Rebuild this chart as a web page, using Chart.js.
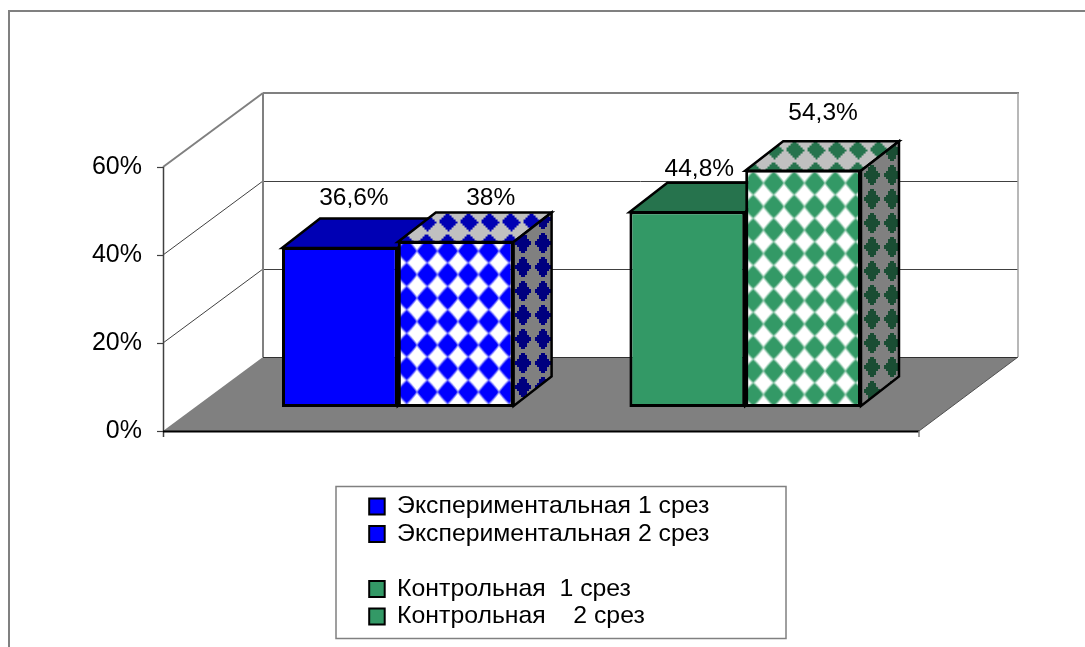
<!DOCTYPE html>
<html lang="ru">
<head>
<meta charset="utf-8">
<style>html,body{margin:0;padding:0;background:#fff;overflow:hidden}canvas{display:block}</style>
<script src="https://cdn.jsdelivr.net/npm/chart.js@4"></script>
</head>
<body>
<canvas id="c" width="1085" height="647"></canvas>
<script>
const categories = [''];
const seriesNames = ['Экспериментальная 1 срез', 'Экспериментальная 2 срез', '', 'Контрольная  1 срез', 'Контрольная    2 срез'];
const seriesValues = [[36.6], [38], [null], [44.8], [54.3]];
const axisTicks = [0, 20, 40, 60];

const FONT = '"Liberation Sans", Arial, sans-serif';
const BLUE = '#0000ff', GREEN = '#339966';
const D = { wallDx: 100, wallDy: -74, barDx: 38, barDy: -29.5, frontLeftGap: 61 };

function softTile(fg, w, h, ox, oy) {
  const c = document.createElement('canvas'); c.width = w; c.height = h;
  const x = c.getContext('2d');
  x.fillStyle = '#fff'; x.fillRect(0, 0, w, h);
  x.fillStyle = fg;
  const a = w / 2, b = h / 2;
  for (let py = 0; py < h; py++) for (let px = 0; px < w; px++) {
    const dx = Math.abs(px + .5 - a), dy = Math.abs(py + .5 - b);
    const v = Math.pow(dx / a, 1.1) + Math.pow(dy / b, 1.1);
    const cov = Math.max(0, Math.min(1, (1 - v) * 3 + .5));
    x.globalAlpha = cov;
    x.fillRect(px, py, 1, 1);
  }
  const p = x.createPattern(c, 'repeat');
  const sx = 20.5 / w, sy = 23.5 / h;
  p.setTransform(new DOMMatrix().translate(ox - a * sx, oy - b * sy).scale(sx, sy));
  return p;
}
function blobTile(bg, fg, w, h, rx, ry, ox, oy) {
  const c = document.createElement('canvas'); c.width = w; c.height = h;
  const x = c.getContext('2d');
  x.fillStyle = bg; x.fillRect(0, 0, w, h);
  x.fillStyle = fg;
  const cx = w / 2, cy = h / 2, s = 2;
  for (let py = 0; py < h; py += s) for (let px = 0; px < w; px += s) {
    const dx = Math.abs(px + s / 2 - cx), dy = Math.abs(py + s / 2 - cy);
    if (dx / rx + dy / ry <= 1) x.fillRect(px, py, s, s);
  }
  const p = x.createPattern(c, 'repeat');
  p.setTransform(new DOMMatrix().translate(ox - cx, oy - cy));
  return p;
}

const faces = [
  { front: BLUE, legend: BLUE, top: '#0000b4', side: '#00007f' },
  { front: softTile(BLUE, 21, 24, 406.7, 251), legend: BLUE,
    top: blobTile('#c0c0c0', '#0000b4', 21, 21, 9.5, 9, 448, 222),
    side: blobTile('#808080', '#00007f', 20, 24, 9, 10.5, 523, 267) },
  { front: 'transparent', legend: 'transparent', top: 'transparent', side: 'transparent' },
  { front: GREEN, legend: GREEN, top: '#26734d', side: '#1a4d33' },
  { front: softTile(GREEN, 21, 24, 773.7, 183), legend: GREEN,
    top: blobTile('#c0c0c0', '#26734d', 21, 21, 9.5, 9, 795, 150),
    side: blobTile('#808080', '#1a4d33', 20, 24, 9, 10.5, 872, 223) }
];
const labelShift = [[14, -49], [35, -43], [0, 0], [12, -42], [20, -56]];

function poly(ctx, pts) {
  ctx.beginPath();
  pts.forEach((p, i) => i ? ctx.lineTo(p[0], p[1]) : ctx.moveTo(p[0], p[1]));
  ctx.closePath();
}
function line(ctx, x1, y1, x2, y2, color, w) {
  ctx.strokeStyle = color; ctx.lineWidth = w;
  ctx.beginPath(); ctx.moveTo(x1, y1); ctx.lineTo(x2, y2); ctx.stroke();
}

const scene3d = {
  id: 'scene3d',
  afterLayout(chart) {
    const l = chart.legend;
    l.left = 366.5; l.right = 786; l.top = 491.5; l.bottom = 640;
  },
  beforeDatasetsDraw(chart) {
    const ctx = chart.ctx, y = chart.scales.y, a = chart.chartArea;
    const x0 = a.left - D.frontLeftGap, x1 = a.right;
    const yb = y.getPixelForValue(0), yt = y.getPixelForValue(60);
    const bx0 = x0 + D.wallDx, bx1 = x1 + D.wallDx - 1, dy = D.wallDy;
    ctx.save();
    ctx.fillStyle = '#808080';
    ctx.fillRect(8, 10, 1077, 2);
    ctx.fillRect(8, 10, 2, 637);
    ctx.fillStyle = '#808080';
    poly(ctx, [[x0, yb], [x1, yb], [bx1, yb + dy], [bx0, yb + dy]]);
    ctx.fill();
    axisTicks.forEach(t => {
      const p = y.getPixelForValue(t);
      if (t > 0 && t < 60) {
        line(ctx, x0, p, bx0, p + dy, '#404040', 1);
        line(ctx, bx0, p + dy + .5, bx1, p + dy + .5, '#404040', 1);
      }
      line(ctx, x0 - 6, p + .5, x0, p + .5, '#404040', 1.2);
    });
    line(ctx, x0, yt, bx0, yt + dy, '#808080', 2);
    line(ctx, bx0, yt + dy, bx1 + 1, yt + dy, '#808080', 2);
    line(ctx, bx0, yt + dy, bx0, yb + dy, '#808080', 2);
    line(ctx, bx1, yt + dy, bx1, yb + dy, '#a0a0a0', 1.5);
    line(ctx, bx0, yb + dy + .5, bx1, yb + dy + .5, '#303030', 1);
    line(ctx, x0 + .5, yt, x0 + .5, yb + 6, '#404040', 1.5);
    line(ctx, x0, yb + .5, x1, yb + .5, '#000', 2);
    line(ctx, x1, yb, x1, yb + 6, '#808080', 1.5);
    line(ctx, x1, yb, bx1, yb + dy, '#505050', 1);
    ctx.lineJoin = 'miter';
    chart.data.datasets.forEach((ds, i) => {
      const bar = chart.getDatasetMeta(i).data[0];
      if (!bar || ds.data[0] == null) return;
      const hw = bar.width / 2, L = bar.x - hw, R = bar.x + hw, T = bar.y + 1, B = bar.base - 1;
      const f = faces[i];
      ctx.strokeStyle = '#000'; ctx.lineWidth = 2.5;
      poly(ctx, [[L, T], [R, T], [R + D.barDx, T + D.barDy], [L + D.barDx, T + D.barDy]]);
      ctx.fillStyle = f.top; ctx.fill(); ctx.stroke();
      poly(ctx, [[R, T], [R + D.barDx, T + D.barDy], [R + D.barDx, B + D.barDy], [R, B]]);
      ctx.fillStyle = f.side; ctx.fill(); ctx.stroke();
    });
    ctx.restore();
  },
  afterDraw(chart) {
    const ctx = chart.ctx;
    ctx.save();
    ctx.strokeStyle = '#808080'; ctx.lineWidth = 1.5;
    ctx.strokeRect(336, 486.5, 450, 152);
    ctx.fillStyle = '#000';
    ctx.font = '24.5px ' + FONT;
    ctx.textAlign = 'center'; ctx.textBaseline = 'middle';
    chart.data.datasets.forEach((ds, i) => {
      const bar = chart.getDatasetMeta(i).data[0], v = ds.data[0];
      if (!bar || v == null) return;
      ctx.fillText(String(v).replace('.', ',') + '%', bar.x + labelShift[i][0], bar.y + labelShift[i][1]);
    });
    ctx.restore();
  }
};

new Chart(document.getElementById('c'), {
  type: 'bar',
  data: {
    labels: categories,
    datasets: seriesNames.map((name, i) => ({
      label: name,
      data: seriesValues[i],
      yAxisID: 'yBars',
      backgroundColor: faces[i].front,
      borderColor: '#000',
      borderWidth: 3,
      borderSkipped: false,
      categoryPercentage: 0.8331,
      barPercentage: 1
    }))
  },
  options: {
    responsive: false,
    animation: false,
    events: [],
    layout: { padding: { left: 0, right: 166, top: 167, bottom: 216 } },
    scales: {
      x: { display: false },
      y: {
        position: 'left', min: 0, max: 60,
        afterFit(s) { s.width = 224; },
        afterBuildTicks(s) { s.ticks = axisTicks.map(v => ({ value: v })); },
        grid: { display: false, drawTicks: false },
        border: { display: false },
        ticks: { padding: 82, color: '#000', font: { family: FONT, size: 25 }, callback: v => v + '%' }
      },
      yBars: { display: false, min: -5.49, max: 54.92 }
    },
    plugins: {
      tooltip: { enabled: false },
      legend: {
        position: 'chartArea',
        align: 'start',
        labels: {
          boxWidth: 15.5, boxHeight: 16, padding: 2.7, color: '#000',
          font: { family: FONT, size: 24.8 },
          generateLabels: chart => chart.data.datasets.map((ds, i) => ({
            text: ds.label, datasetIndex: i,
            fillStyle: faces[i].legend,
            strokeStyle: ds.label ? '#000' : 'transparent',
            lineWidth: ds.label ? 2 : 0, hidden: false
          }))
        }
      }
    }
  },
  plugins: [scene3d]
});
</script>
</body>
</html>
